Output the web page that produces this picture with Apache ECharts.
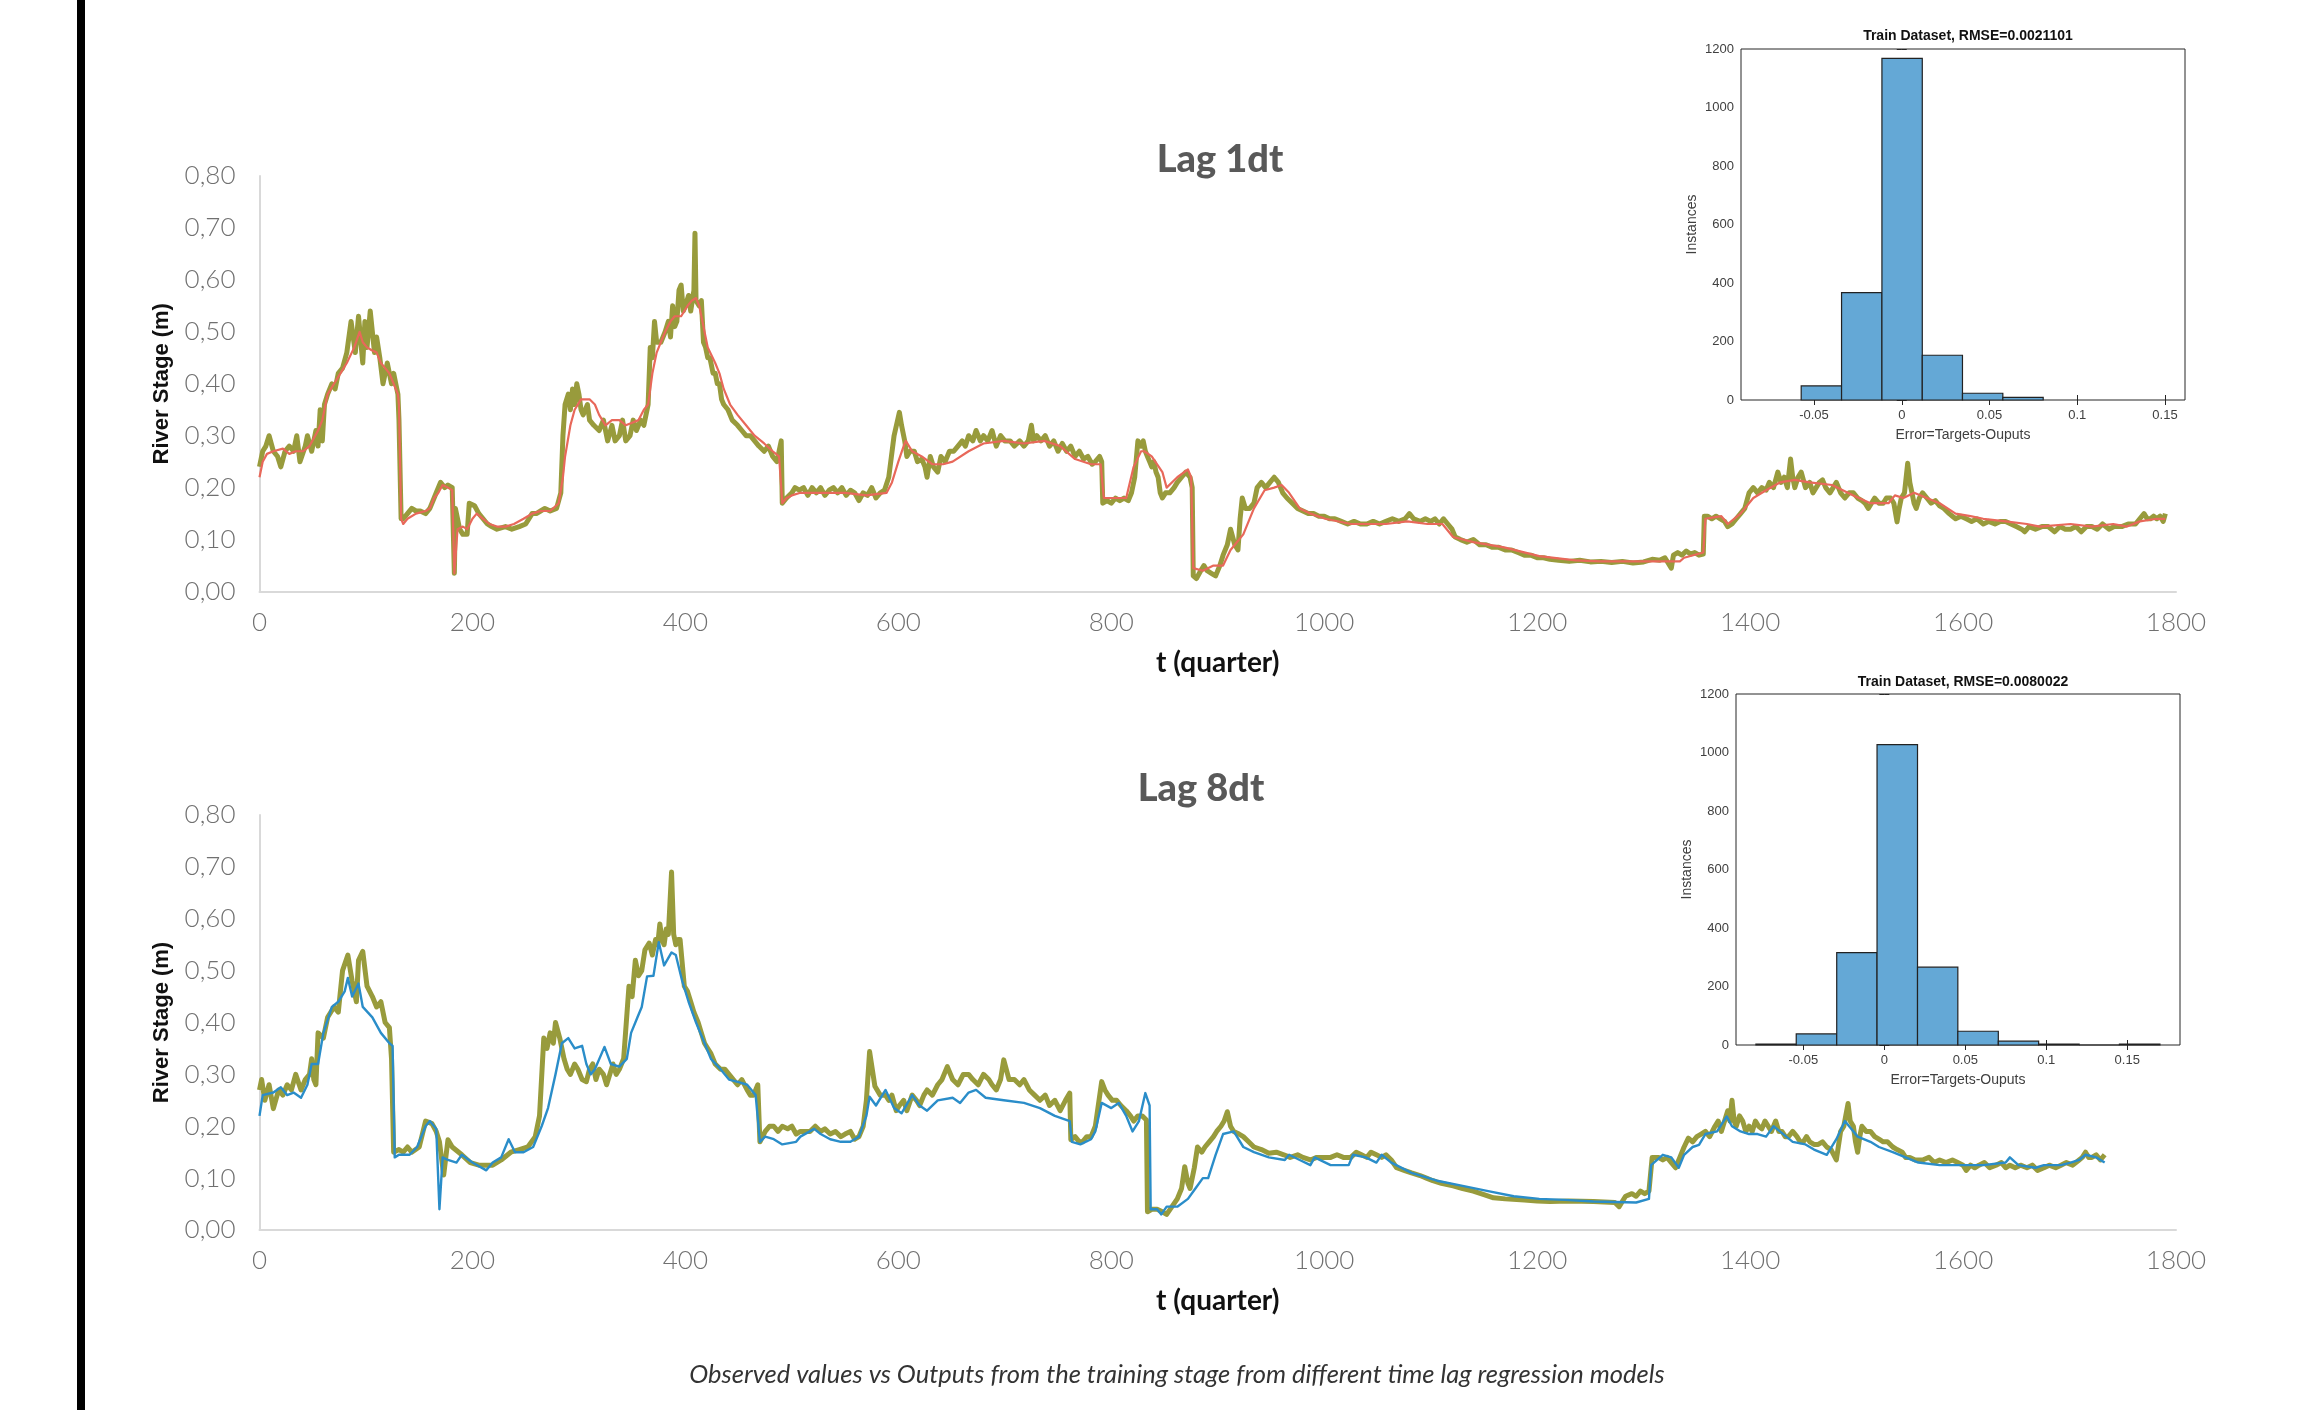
<!DOCTYPE html>
<html><head><meta charset="utf-8">
<script src="https://cdn.jsdelivr.net/npm/echarts@6/dist/echarts.min.js"></script>
<style>html,body{margin:0;padding:0;background:#fff}#c{width:2299px;height:1410px}</style>
</head><body><div id="c"></div>
<script>
// ---------- DATA ----------
const xTicks = [0,200,400,600,800,1000,1200,1400,1600,1800];
const yTicks = [0,0.1,0.2,0.3,0.4,0.5,0.6,0.7,0.8];
const histTicksX = [-0.05,0,0.05,0.1,0.15];

// Lag 1dt: observed (olive) and model output (red), [t, stage m]
const lag1Observed = [
[0,0.24],[3,0.27],[6,0.28],[9,0.30],[13,0.27],[17,0.26],[20,0.24],[24,0.27],[28,0.28],[32,0.27],[35,0.30],[38,0.25],[43,0.28],[45,0.30],[49,0.27],[53,0.31],[55,0.28],[57,0.35],[59,0.29],[61,0.36],[64,0.38],[68,0.40],[71,0.39],[74,0.42],[78,0.43],[82,0.46],[86,0.52],[90,0.46],[93,0.53],[97,0.44],[99,0.52],[101,0.47],[104,0.54],[108,0.46],[110,0.49],[113,0.45],[116,0.40],[120,0.44],[124,0.40],[126,0.42],[130,0.38],[131,0.33],[133,0.14],
[135,0.14],[139,0.15],[143,0.16],[147,0.155],[151,0.155],[156,0.15],[160,0.16],[164,0.18],[166,0.19],[170,0.21],[174,0.20],[177,0.205],[181,0.20],[183,0.035],[184,0.16],[186,0.14],[188,0.12],[191,0.11],[195,0.11],[197,0.17],[202,0.165],[206,0.15],[210,0.14],[214,0.13],[218,0.125],[223,0.12],[231,0.125],[237,0.12],[244,0.125],[250,0.13],[256,0.15],[260,0.15],[264,0.155],[268,0.16],[273,0.155],[279,0.16],[283,0.19],[285,0.30],[287,0.36],[290,0.38],[292,0.35],[294,0.39],[296,0.36],[298,0.40],[300,0.38],[302,0.35],[304,0.34],[308,0.36],[310,0.33],[314,0.32],[319,0.31],[323,0.33],[327,0.29],[331,0.32],[334,0.29],[338,0.30],[341,0.33],[344,0.29],[348,0.30],[351,0.33],[354,0.31],[358,0.33],[361,0.32],[365,0.36],[367,0.47],[369,0.45],[371,0.52],[373,0.48],[377,0.48],[381,0.50],[384,0.52],[386,0.49],[388,0.55],[390,0.51],[392,0.52],[394,0.58],[396,0.59],[398,0.54],[400,0.55],[403,0.57],[405,0.54],[408,0.58],[409,0.69],[410,0.56],[413,0.55],[415,0.56],[417,0.48],[419,0.47],[421,0.45],[423,0.45],[426,0.42],[428,0.42],[430,0.40],[432,0.40],[434,0.37],[436,0.36],[440,0.35],[444,0.33],[449,0.32],[453,0.31],[457,0.30],[461,0.30],[465,0.29],[469,0.28],[474,0.27],[478,0.28],[482,0.26],[486,0.25],[488,0.27],[490,0.29],[491,0.17],
[495,0.18],[500,0.19],[503,0.20],[507,0.195],[511,0.20],[515,0.185],[519,0.20],[523,0.19],[527,0.20],[531,0.185],[535,0.195],[539,0.20],[543,0.19],[547,0.20],[551,0.185],[555,0.195],[559,0.19],[563,0.175],[567,0.19],[571,0.185],[575,0.20],[579,0.18],[583,0.19],[587,0.195],[591,0.22],[596,0.30],[601,0.345],[603,0.32],[606,0.29],[608,0.26],[611,0.27],[615,0.27],[618,0.25],[622,0.255],[625,0.24],[627,0.22],[630,0.26],[633,0.24],[637,0.23],[640,0.26],[644,0.25],[648,0.27],[652,0.27],[656,0.28],[660,0.29],[663,0.28],[666,0.30],[670,0.29],[673,0.31],[677,0.29],[680,0.30],[684,0.29],[688,0.31],[692,0.28],[696,0.30],[700,0.29],[705,0.29],[709,0.28],[714,0.29],[718,0.28],[722,0.29],[725,0.32],[727,0.29],[730,0.30],[734,0.29],[738,0.30],[742,0.28],[746,0.29],[750,0.27],[754,0.285],[758,0.27],[762,0.28],[766,0.26],[770,0.27],[774,0.255],[778,0.26],[782,0.245],[785,0.25],[789,0.26],[791,0.25],[792,0.17],[796,0.175],[800,0.17],[804,0.18],[808,0.175],[812,0.18],[816,0.175],[819,0.19],[822,0.22],[825,0.29],[828,0.28],[830,0.29],[832,0.27],[834,0.26],[836,0.25],[838,0.24],[840,0.25],[842,0.23],[844,0.22],[846,0.19],[848,0.18],[851,0.19],[855,0.19],[859,0.20],[862,0.21],[866,0.22],[870,0.23],[874,0.22],[876,0.20],[877,0.03],[880,0.025],[884,0.04],[887,0.05],[890,0.04],[894,0.035],[898,0.03],[902,0.05],[905,0.07],[909,0.09],[912,0.12],[916,0.09],[919,0.08],[921,0.14],[923,0.18],[926,0.16],[930,0.16],[934,0.17],[937,0.20],[941,0.21],[945,0.20],[949,0.21],[953,0.22],[957,0.21],[961,0.19],[965,0.18],[970,0.17],[975,0.16],[980,0.155],[985,0.15],[990,0.15],[995,0.145],[1000,0.145],[1005,0.14],[1010,0.14],[1016,0.135],[1022,0.13],[1028,0.135],[1034,0.13],[1040,0.13],[1046,0.135],[1052,0.13],[1058,0.135],[1064,0.14],[1070,0.135],[1076,0.14],[1080,0.15],[1084,0.14],[1090,0.135],[1095,0.14],[1100,0.135],[1104,0.14],[1108,0.13],[1112,0.14],[1116,0.13],[1120,0.12],[1123,0.105],[1128,0.10],[1134,0.095],[1140,0.10],[1146,0.09],[1152,0.09],[1158,0.085],[1164,0.085],[1170,0.08],[1176,0.08],[1182,0.075],[1188,0.07],[1194,0.07],[1200,0.065],[1206,0.065],[1212,0.062],[1220,0.06],[1230,0.058],[1240,0.06],[1250,0.057],[1260,0.058],[1270,0.056],[1280,0.058],[1290,0.055],[1300,0.057],[1308,0.062],[1315,0.06],[1320,0.065],[1326,0.045],[1328,0.07],[1332,0.075],[1336,0.07],[1340,0.078],[1344,0.072],[1348,0.075],[1352,0.07],[1356,0.072],
[1357,0.145],[1360,0.145],[1364,0.14],[1368,0.145],[1372,0.14],[1376,0.135],[1379,0.125],[1383,0.13],[1387,0.14],[1391,0.15],[1395,0.16],[1399,0.19],[1403,0.20],[1407,0.19],[1411,0.20],[1415,0.195],[1418,0.21],[1422,0.20],[1426,0.23],[1429,0.21],[1432,0.22],[1435,0.20],[1438,0.255],[1440,0.22],[1442,0.20],[1445,0.22],[1448,0.23],[1452,0.20],[1456,0.21],[1459,0.19],[1462,0.20],[1465,0.21],[1468,0.215],[1471,0.20],[1475,0.19],[1478,0.20],[1481,0.21],[1485,0.19],[1489,0.18],[1493,0.19],[1497,0.19],[1501,0.18],[1505,0.175],[1508,0.17],[1511,0.16],[1514,0.17],[1517,0.18],[1521,0.17],[1525,0.17],[1528,0.18],[1532,0.18],[1535,0.17],[1538,0.134],[1540,0.16],[1542,0.18],[1545,0.19],[1548,0.247],[1550,0.21],[1552,0.19],[1554,0.17],[1556,0.16],[1559,0.18],[1562,0.19],[1566,0.18],[1570,0.17],[1574,0.175],[1578,0.165],[1582,0.16],[1587,0.15],[1590,0.145],[1593,0.14],[1598,0.145],[1603,0.14],[1608,0.135],[1613,0.14],[1619,0.13],[1624,0.135],[1630,0.13],[1635,0.135],[1640,0.135],[1645,0.13],[1650,0.125],[1655,0.12],[1658,0.115],[1662,0.125],[1668,0.12],[1674,0.125],[1680,0.125],[1686,0.115],[1691,0.125],[1696,0.12],[1701,0.12],[1706,0.125],[1711,0.115],[1716,0.125],[1721,0.125],[1726,0.12],[1731,0.13],[1737,0.12],[1742,0.125],[1749,0.125],[1755,0.13],[1762,0.13],[1766,0.14],[1770,0.15],[1773,0.14],[1776,0.14],[1779,0.145],[1782,0.14],[1785,0.145],[1788,0.135],[1790,0.15]
];
const lag1Output = [
[0,0.22],[3,0.25],[7,0.265],[13,0.27],[22,0.275],[28,0.265],[34,0.27],[41,0.27],[47,0.28],[55,0.31],[59,0.33],[64,0.38],[70,0.40],[76,0.42],[82,0.44],[89,0.47],[94,0.50],[97,0.48],[101,0.47],[105,0.465],[110,0.46],[114,0.44],[118,0.43],[122,0.42],[126,0.40],[130,0.38],[131,0.36],[133,0.14],
[135,0.13],[139,0.14],[147,0.15],[156,0.155],[160,0.16],[164,0.18],[168,0.19],[172,0.205],[177,0.20],[181,0.195],[183,0.035],[186,0.12],[191,0.125],[195,0.12],[200,0.14],[204,0.15],[210,0.14],[216,0.13],[223,0.125],[231,0.125],[239,0.13],[248,0.14],[256,0.15],[264,0.155],[273,0.155],[281,0.17],[285,0.22],[287,0.26],[292,0.32],[296,0.35],[302,0.37],[310,0.37],[315,0.36],[319,0.34],[325,0.32],[331,0.33],[338,0.33],[344,0.32],[350,0.325],[356,0.33],[361,0.35],[365,0.36],[369,0.42],[373,0.46],[377,0.48],[381,0.50],[386,0.52],[390,0.53],[396,0.53],[402,0.55],[406,0.56],[410,0.565],[413,0.55],[417,0.51],[421,0.47],[428,0.44],[432,0.42],[436,0.39],[442,0.36],[449,0.34],[457,0.32],[465,0.30],[474,0.285],[482,0.27],[488,0.26],[491,0.17],
[495,0.18],[500,0.185],[508,0.19],[530,0.19],[550,0.19],[570,0.185],[589,0.19],[594,0.21],[600,0.25],[605,0.28],[607,0.29],[613,0.27],[622,0.26],[632,0.245],[642,0.245],[651,0.25],[666,0.27],[680,0.285],[699,0.29],[718,0.285],[737,0.29],[752,0.28],[766,0.255],[781,0.245],[790,0.245],[793,0.18],[814,0.18],[821,0.24],[828,0.27],[831,0.27],[838,0.26],[848,0.23],[852,0.20],[862,0.22],[872,0.235],[875,0.22],[877,0.045],[886,0.04],[896,0.05],[905,0.05],[912,0.08],[924,0.11],[934,0.16],[944,0.195],[953,0.20],[960,0.205],[967,0.19],[977,0.16],[987,0.15],[1001,0.14],[1025,0.13],[1058,0.13],[1078,0.135],[1097,0.13],[1111,0.13],[1121,0.105],[1140,0.095],[1169,0.085],[1202,0.068],[1236,0.06],[1259,0.058],[1293,0.058],[1334,0.058],[1338,0.065],[1356,0.075],[1358,0.14],[1373,0.145],[1379,0.13],[1391,0.15],[1403,0.18],[1415,0.195],[1428,0.21],[1442,0.215],[1456,0.21],[1477,0.205],[1497,0.185],[1513,0.17],[1530,0.17],[1536,0.185],[1544,0.18],[1554,0.19],[1566,0.18],[1578,0.17],[1593,0.15],[1607,0.145],[1619,0.14],[1640,0.135],[1660,0.13],[1672,0.125],[1701,0.13],[1721,0.125],[1741,0.13],[1754,0.125],[1766,0.135],[1782,0.14],[1790,0.14]
];

// Lag 8dt: observed (olive) and model output (blue)
const lag8Observed = [
[0,0.27],[2,0.29],[5,0.25],[9,0.28],[13,0.234],[18,0.27],[22,0.26],[26,0.28],[30,0.27],[34,0.30],[39,0.27],[43,0.29],[47,0.30],[49,0.33],[51,0.29],[53,0.28],[55,0.38],[60,0.37],[64,0.41],[70,0.43],[74,0.42],[78,0.50],[83,0.53],[87,0.48],[91,0.44],[93,0.52],[97,0.537],[101,0.47],[106,0.45],[110,0.43],[114,0.44],[118,0.40],[122,0.39],[124,0.33],[126,0.15],
[131,0.155],[135,0.15],[139,0.16],[143,0.15],[150,0.16],[156,0.21],[162,0.205],[166,0.19],[169,0.17],[173,0.106],[177,0.174],[181,0.16],[190,0.145],[198,0.13],[206,0.125],[219,0.125],[227,0.135],[236,0.15],[244,0.155],[252,0.16],[259,0.18],[263,0.22],[267,0.37],[270,0.35],[273,0.38],[276,0.36],[278,0.40],[282,0.37],[286,0.33],[289,0.31],[292,0.30],[296,0.32],[299,0.31],[303,0.29],[307,0.286],[310,0.31],[313,0.32],[316,0.29],[319,0.31],[323,0.30],[326,0.28],[329,0.30],[332,0.32],[335,0.30],[338,0.31],[342,0.33],[347,0.47],[350,0.45],[353,0.52],[356,0.49],[359,0.50],[362,0.54],[366,0.553],[369,0.53],[372,0.56],[374,0.55],[376,0.59],[378,0.56],[380,0.55],[382,0.58],[384,0.57],[387,0.69],[389,0.57],[391,0.55],[393,0.56],[395,0.56],[399,0.47],[402,0.46],[405,0.44],[408,0.42],[412,0.40],[415,0.38],[418,0.36],[421,0.35],[424,0.34],[428,0.32],[433,0.31],[437,0.31],[441,0.30],[445,0.29],[449,0.28],[453,0.29],[458,0.27],[461,0.26],[464,0.26],[468,0.28],[470,0.17],
[475,0.19],[479,0.20],[483,0.20],[487,0.19],[491,0.20],[496,0.195],[500,0.20],[504,0.185],[508,0.19],[517,0.19],[522,0.20],[527,0.19],[531,0.195],[536,0.185],[541,0.19],[546,0.18],[550,0.185],[555,0.19],[559,0.175],[563,0.18],[567,0.20],[570,0.25],[573,0.344],[578,0.277],[583,0.26],[588,0.26],[591,0.25],[594,0.26],[598,0.23],[601,0.24],[605,0.25],[608,0.23],[613,0.26],[617,0.25],[620,0.24],[624,0.26],[627,0.27],[632,0.26],[637,0.28],[641,0.29],[646,0.315],[651,0.29],[656,0.28],[661,0.30],[666,0.30],[670,0.29],[675,0.28],[680,0.30],[685,0.29],[688,0.28],[692,0.27],[696,0.29],[699,0.328],[704,0.29],[709,0.29],[714,0.28],[718,0.29],[723,0.27],[728,0.26],[733,0.25],[738,0.26],[742,0.24],[747,0.25],[752,0.23],[757,0.25],[761,0.264],[762,0.174],[766,0.18],[770,0.17],[773,0.17],[777,0.18],[781,0.18],[785,0.20],[791,0.286],[794,0.27],[797,0.26],[801,0.25],[805,0.25],[809,0.24],[814,0.23],[818,0.22],[821,0.21],[825,0.22],[829,0.22],[833,0.212],[834,0.035],[838,0.04],[843,0.04],[848,0.035],[852,0.03],[857,0.045],[862,0.06],[866,0.08],[869,0.122],[872,0.09],[874,0.08],[878,0.12],[881,0.16],[885,0.15],[888,0.16],[892,0.17],[896,0.18],[899,0.19],[903,0.20],[906,0.21],[909,0.228],[912,0.20],[915,0.19],[920,0.185],[924,0.18],[929,0.17],[934,0.16],[941,0.155],[948,0.148],[955,0.15],[962,0.145],[968,0.14],[975,0.145],[980,0.14],[987,0.135],[993,0.14],[1000,0.14],[1006,0.14],[1012,0.145],[1018,0.14],[1025,0.14],[1030,0.15],[1035,0.145],[1040,0.14],[1044,0.15],[1049,0.145],[1054,0.14],[1058,0.145],[1063,0.135],[1068,0.12],[1075,0.115],[1082,0.11],[1090,0.105],[1096,0.10],[1102,0.095],[1110,0.09],[1121,0.085],[1130,0.08],[1140,0.075],[1150,0.068],[1159,0.062],[1170,0.06],[1188,0.058],[1200,0.056],[1212,0.055],[1230,0.056],[1253,0.055],[1273,0.053],[1277,0.045],[1283,0.065],[1289,0.07],[1293,0.065],[1297,0.075],[1301,0.07],[1305,0.075],
[1308,0.14],[1314,0.14],[1318,0.135],[1322,0.14],[1326,0.13],[1330,0.12],[1334,0.14],[1338,0.16],[1342,0.177],[1346,0.17],[1350,0.18],[1354,0.185],[1358,0.19],[1362,0.18],[1367,0.20],[1370,0.21],[1373,0.19],[1376,0.21],[1379,0.23],[1381,0.21],[1383,0.25],[1385,0.21],[1387,0.20],[1390,0.22],[1393,0.21],[1396,0.19],[1399,0.20],[1402,0.19],[1405,0.21],[1408,0.20],[1411,0.195],[1414,0.21],[1417,0.20],[1420,0.19],[1424,0.21],[1427,0.19],[1430,0.19],[1433,0.18],[1436,0.18],[1440,0.19],[1444,0.18],[1447,0.17],[1450,0.17],[1453,0.18],[1456,0.17],[1460,0.165],[1464,0.165],[1468,0.17],[1472,0.16],[1476,0.155],[1481,0.135],[1485,0.19],[1488,0.20],[1492,0.244],[1494,0.21],[1497,0.20],[1499,0.17],[1501,0.15],[1503,0.18],[1505,0.20],[1509,0.19],[1513,0.19],[1517,0.18],[1521,0.175],[1525,0.17],[1529,0.17],[1534,0.16],[1538,0.155],[1543,0.15],[1546,0.14],[1550,0.14],[1555,0.135],[1562,0.135],[1568,0.14],[1573,0.13],[1578,0.135],[1584,0.13],[1590,0.135],[1595,0.13],[1600,0.125],[1603,0.115],[1607,0.125],[1611,0.12],[1615,0.125],[1620,0.13],[1625,0.12],[1631,0.125],[1636,0.13],[1640,0.12],[1644,0.125],[1649,0.12],[1654,0.125],[1660,0.12],[1665,0.125],[1670,0.115],[1676,0.12],[1681,0.125],[1687,0.12],[1692,0.125],[1697,0.13],[1703,0.125],[1709,0.135],[1712,0.14],[1715,0.15],[1718,0.14],[1721,0.14],[1725,0.145],[1729,0.135],[1733,0.145]
];
const lag8Output = [
[0,0.22],[3,0.26],[13,0.265],[20,0.275],[26,0.26],[32,0.265],[39,0.255],[45,0.28],[49,0.32],[55,0.32],[60,0.38],[68,0.43],[74,0.44],[80,0.46],[83,0.486],[87,0.45],[93,0.475],[97,0.43],[106,0.41],[114,0.38],[122,0.36],[125,0.355],[127,0.14],
[131,0.145],[141,0.145],[148,0.16],[156,0.20],[160,0.21],[166,0.195],[169,0.04],[172,0.14],[177,0.135],[185,0.13],[190,0.145],[200,0.13],[213,0.115],[219,0.13],[227,0.14],[234,0.175],[240,0.15],[248,0.15],[257,0.16],[265,0.20],[271,0.235],[278,0.30],[284,0.36],[290,0.37],[296,0.35],[303,0.355],[307,0.32],[311,0.30],[315,0.31],[324,0.353],[330,0.32],[338,0.315],[345,0.33],[349,0.38],[355,0.41],[359,0.43],[364,0.489],[370,0.49],[375,0.555],[380,0.51],[387,0.535],[391,0.53],[397,0.48],[403,0.44],[410,0.40],[416,0.37],[424,0.33],[433,0.31],[441,0.29],[450,0.285],[458,0.28],[466,0.26],[470,0.17],
[475,0.18],[483,0.175],[491,0.165],[504,0.17],[508,0.18],[521,0.195],[527,0.185],[536,0.175],[546,0.17],[555,0.17],[563,0.18],[570,0.22],[573,0.257],[579,0.24],[588,0.27],[596,0.235],[603,0.225],[613,0.26],[620,0.24],[627,0.23],[637,0.25],[651,0.255],[658,0.245],[666,0.265],[673,0.27],[682,0.255],[699,0.25],[718,0.245],[733,0.235],[747,0.22],[761,0.21],[763,0.17],[771,0.165],[781,0.175],[785,0.19],[791,0.245],[800,0.235],[807,0.245],[814,0.22],[820,0.19],[826,0.21],[832,0.264],[836,0.24],[837,0.04],[843,0.04],[847,0.03],[852,0.045],[862,0.045],[872,0.06],[879,0.08],[886,0.10],[891,0.10],[898,0.145],[905,0.185],[915,0.19],[924,0.16],[934,0.15],[948,0.14],[963,0.135],[967,0.145],[977,0.135],[987,0.125],[991,0.14],[1006,0.125],[1023,0.125],[1027,0.145],[1039,0.14],[1049,0.13],[1054,0.145],[1063,0.13],[1082,0.11],[1106,0.095],[1130,0.085],[1154,0.075],[1178,0.065],[1202,0.06],[1226,0.058],[1253,0.055],[1293,0.053],[1305,0.06],[1307,0.125],[1318,0.145],[1326,0.14],[1333,0.12],[1338,0.145],[1346,0.16],[1352,0.164],[1358,0.185],[1369,0.19],[1378,0.219],[1383,0.20],[1391,0.19],[1399,0.185],[1407,0.185],[1415,0.18],[1422,0.20],[1428,0.19],[1440,0.17],[1452,0.165],[1460,0.155],[1472,0.145],[1481,0.175],[1489,0.21],[1493,0.20],[1501,0.18],[1513,0.17],[1521,0.16],[1534,0.15],[1546,0.14],[1558,0.13],[1578,0.125],[1599,0.125],[1619,0.125],[1640,0.13],[1644,0.14],[1652,0.125],[1668,0.12],[1676,0.125],[1692,0.125],[1701,0.13],[1709,0.135],[1715,0.145],[1725,0.14],[1733,0.13]
];

// Error histograms: bin edges and counts
const lag1BinEdges = [-0.0573,-0.0343,-0.0113,0.0117,0.0346,0.0576,0.0806];
const lag1Counts = [48,367,1168,153,23,9];
const lag8BinEdges = [-0.0793,-0.0544,-0.0294,-0.0045,0.0205,0.0454,0.0704,0.0953,0.1203,0.1452,0.1702];
const lag8Counts = [3,38,316,1027,266,47,13,3,0,3];

// ---------- CHART ----------
const LIGHT = 'Lato,"Open Sans",sans-serif';
const ARIAL = '"Liberation Sans",Arial,Helvetica,sans-serif';
const comma = v => v.toFixed(2).replace('.', ',');
const plain = v => String(v);

function mainX(gi){
  return {gridIndex:gi,type:'value',min:0,max:1800,interval:200,
    axisLine:{show:true,onZero:false,lineStyle:{color:'#D9D9D9',width:2}},
    axisTick:{show:false},splitLine:{show:false},
    axisLabel:{fontSize:26,fontWeight:300,color:'#707070',fontFamily:LIGHT,margin:18,formatter:plain},
    name:'t (quarter)',nameLocation:'middle',nameGap:57,
    nameTextStyle:{fontSize:28,fontWeight:'bold',color:'#111',fontFamily:LIGHT}};
}
function mainY(gi){
  return {gridIndex:gi,type:'value',min:0,max:0.8,interval:0.1,
    axisLine:{show:true,lineStyle:{color:'#D9D9D9',width:2}},
    axisTick:{show:false},splitLine:{show:false},
    axisLabel:{fontSize:26,fontWeight:300,color:'#707070',fontFamily:LIGHT,margin:24,formatter:comma},
    name:'River Stage (m)',nameLocation:'middle',nameGap:87,
    nameTextStyle:{fontSize:22,fontWeight:'bold',color:'#111',fontFamily:ARIAL}};
}
const fmtHist = v => String(+v.toFixed(2));
function histX(gi,min,max,withLabels,pos){
  return {gridIndex:gi,type:'value',min:min,max:max,position:pos,
    axisLine:{show:false},splitLine:{show:false},
    axisTick:{show:true,inside:true,length:5,customValues:histTicksX,lineStyle:{color:'#262626'}},
    axisLabel:{show:withLabels,customValues:histTicksX,formatter:fmtHist,fontSize:13,color:'#404040',fontFamily:ARIAL,margin:9},
    name:withLabels?'Error=Targets-Ouputs':'',nameLocation:'middle',nameGap:28,
    nameTextStyle:{fontSize:14,color:'#404040',fontFamily:ARIAL}};
}
function histY(gi,withLabels,pos){
  return {gridIndex:gi,type:'value',min:0,max:1200,interval:200,position:pos,
    axisLine:{show:false},splitLine:{show:false},
    axisTick:{show:true,inside:true,length:5,lineStyle:{color:'#262626'}},
    axisLabel:{show:withLabels,fontSize:13,color:'#404040',fontFamily:ARIAL,margin:7,formatter:plain},
    name:withLabels?'Instances':'',nameLocation:'middle',nameGap:42,
    nameTextStyle:{fontSize:14,color:'#404040',fontFamily:ARIAL}};
}
function histData(edges,counts){
  return counts.map((c,i)=>[edges[i],edges[i+1],c]);
}
function histSeries(xi,yi,edges,counts){
  return {type:'custom',xAxisIndex:xi,yAxisIndex:yi,encode:{x:[0,1],y:2},
    data:histData(edges,counts),
    renderItem:(params,api)=>{
      const p0=api.coord([api.value(0),api.value(2)]);
      const p1=api.coord([api.value(1),0]);
      return {type:'rect',shape:{x:p0[0],y:p0[1],width:p1[0]-p0[0],height:p1[1]-p0[1]},
        style:{fill:'#64A8D6',stroke:'#222',lineWidth:1.2}};
    }};
}
function line(xi,yi,data,color,w,z){
  return {type:'line',xAxisIndex:xi,yAxisIndex:yi,data:data,showSymbol:false,symbol:'none',
    lineStyle:{color:color,width:w,join:'round'},z:z,silent:true};
}

const chart = echarts.init(document.getElementById('c'),null,{renderer:'canvas'});
chart.setOption({
  animation:false,
  backgroundColor:'#fff',
  title:[
    {text:'Lag 1dt',left:1215,top:136,textAlign:'center',textStyle:{fontSize:38,fontWeight:900,color:'#595959',fontFamily:LIGHT}},
    {text:'Lag 8dt',left:1196,top:765,textAlign:'center',textStyle:{fontSize:38,fontWeight:900,color:'#595959',fontFamily:LIGHT}},
    {text:'Train Dataset, RMSE=0.0021101',left:1963,top:24,textAlign:'center',textStyle:{fontSize:14,fontWeight:'bold',color:'#111',fontFamily:ARIAL}},
    {text:'Train Dataset, RMSE=0.0080022',left:1958,top:670,textAlign:'center',textStyle:{fontSize:14,fontWeight:'bold',color:'#111',fontFamily:ARIAL}},
    {text:'Observed values vs Outputs from the training stage from different time lag regression models',left:1172,top:1357,textAlign:'center',
     textStyle:{fontSize:25.5,fontWeight:'normal',fontStyle:'italic',color:'#333',fontFamily:LIGHT}}
  ],
  grid:[
    {left:259.5,top:176,width:1916.5,height:415.5},
    {left:259.5,top:815,width:1916.5,height:415},
    {left:1741,top:49,width:444,height:351,show:true,borderColor:'#262626',borderWidth:1,backgroundColor:'#fff'},
    {left:1736,top:694,width:444,height:351,show:true,borderColor:'#262626',borderWidth:1,backgroundColor:'#fff'}
  ],
  xAxis:[
    mainX(0), mainX(1),
    histX(2,-0.0916,0.1614,true,'bottom'), histX(2,-0.0916,0.1614,false,'top'),
    histX(3,-0.0916,0.1826,true,'bottom'), histX(3,-0.0916,0.1826,false,'top')
  ],
  yAxis:[
    mainY(0), mainY(1),
    histY(2,true,'left'), histY(2,false,'right'),
    histY(3,true,'left'), histY(3,false,'right')
  ],
  series:[
    line(0,0,lag1Observed,'#989B3C',5,2),
    line(0,0,lag1Output,'#E8685A',2.2,3),
    line(1,1,lag8Observed,'#989B3C',5,2),
    line(1,1,lag8Output,'#2A8DC9',2.4,3),
    histSeries(2,2,lag1BinEdges,lag1Counts),
    histSeries(4,4,lag8BinEdges,lag8Counts)
  ],
  graphic:[
    {type:'rect',left:77,top:0,shape:{width:8,height:1410},style:{fill:'#000'},z:100}
  ]
});
</script>
</body></html>
